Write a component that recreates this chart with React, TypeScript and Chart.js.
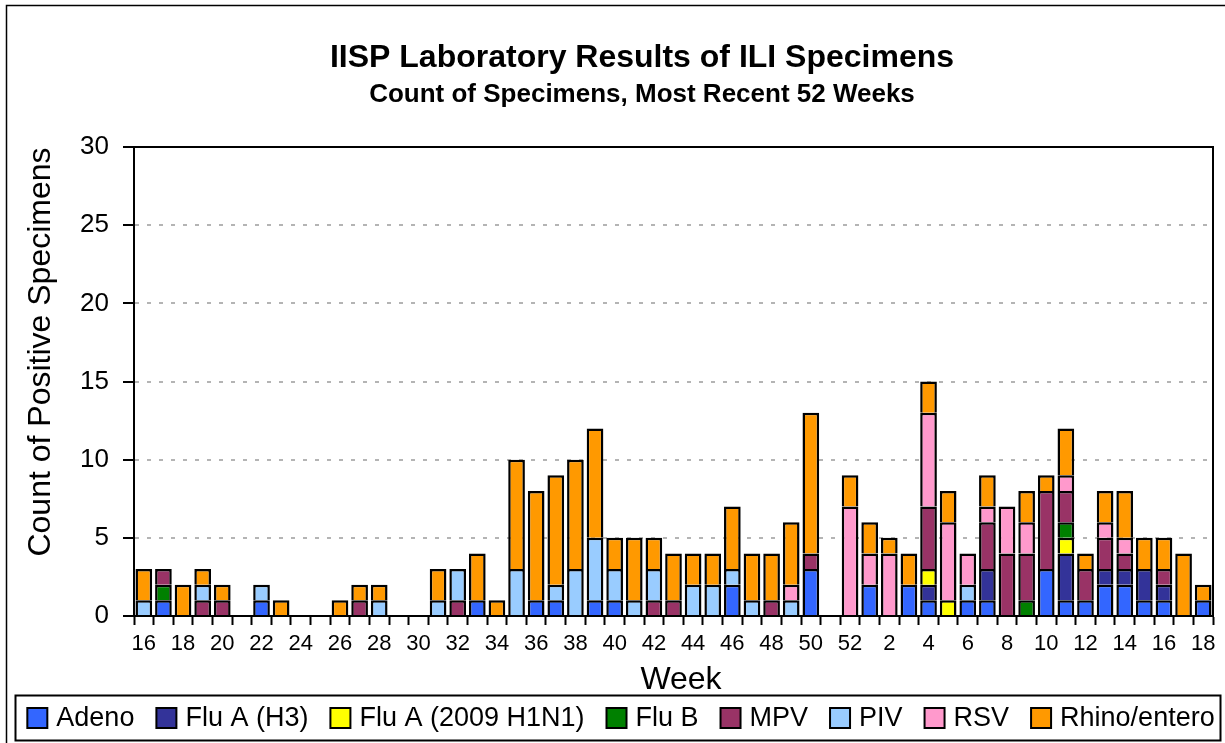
import React, { useEffect, useRef } from "react";
import { Chart, registerables } from "chart.js";

Chart.register(...registerables);

const FONT = "'Liberation Sans', Arial, Helvetica, sans-serif";

const weeks = [
  16, 17, 18, 19, 20, 21, 22, 23, 24, 25, 26, 27, 28, 29, 30, 31, 32, 33, 34, 35,
  36, 37, 38, 39, 40, 41, 42, 43, 44, 45, 46, 47, 48, 49, 50, 51, 52,
  1, 2, 3, 4, 5, 6, 7, 8, 9, 10, 11, 12, 13, 14, 15, 16, 17, 18,
];

const adeno = [
  0, 1, 0, 0, 0, 0, 1, 0, 0, 0, 0, 0, 0, 0, 0, 0, 0, 1, 0, 0,
  1, 1, 0, 1, 1, 0, 0, 0, 0, 0, 2, 0, 0, 0, 3, 0, 0,
  2, 0, 2, 1, 0, 1, 1, 0, 0, 3, 1, 1, 2, 2, 1, 1, 0, 1,
];
const fluH3 = [
  0, 0, 0, 0, 0, 0, 0, 0, 0, 0, 0, 0, 0, 0, 0, 0, 0, 0, 0, 0,
  0, 0, 0, 0, 0, 0, 0, 0, 0, 0, 0, 0, 0, 0, 0, 0, 0,
  0, 0, 0, 1, 0, 0, 2, 0, 0, 0, 3, 0, 1, 1, 2, 1, 0, 0,
];
const fluH1N1 = [
  0, 0, 0, 0, 0, 0, 0, 0, 0, 0, 0, 0, 0, 0, 0, 0, 0, 0, 0, 0,
  0, 0, 0, 0, 0, 0, 0, 0, 0, 0, 0, 0, 0, 0, 0, 0, 0,
  0, 0, 0, 1, 1, 0, 0, 0, 0, 0, 1, 0, 0, 0, 0, 0, 0, 0,
];
const fluB = [
  0, 1, 0, 0, 0, 0, 0, 0, 0, 0, 0, 0, 0, 0, 0, 0, 0, 0, 0, 0,
  0, 0, 0, 0, 0, 0, 0, 0, 0, 0, 0, 0, 0, 0, 0, 0, 0,
  0, 0, 0, 0, 0, 0, 0, 0, 1, 0, 1, 0, 0, 0, 0, 0, 0, 0,
];
const mpv = [
  0, 1, 0, 1, 1, 0, 0, 0, 0, 0, 0, 1, 0, 0, 0, 0, 1, 0, 0, 0,
  0, 0, 0, 0, 0, 0, 1, 1, 0, 0, 0, 0, 1, 0, 1, 0, 0,
  0, 0, 0, 4, 0, 0, 3, 4, 3, 5, 2, 2, 2, 1, 0, 1, 0, 0,
];
const piv = [
  1, 0, 0, 1, 0, 0, 1, 0, 0, 0, 0, 0, 1, 0, 0, 1, 2, 0, 0, 3,
  0, 1, 3, 4, 2, 1, 2, 0, 2, 2, 1, 1, 0, 1, 0, 0, 0,
  0, 0, 0, 0, 0, 1, 0, 0, 0, 0, 0, 0, 0, 0, 0, 0, 0, 0,
];
const rsv = [
  0, 0, 0, 0, 0, 0, 0, 0, 0, 0, 0, 0, 0, 0, 0, 0, 0, 0, 0, 0,
  0, 0, 0, 0, 0, 0, 0, 0, 0, 0, 0, 0, 0, 1, 0, 0, 7,
  2, 4, 0, 6, 5, 2, 1, 3, 2, 0, 1, 0, 1, 1, 0, 0, 0, 0,
];
const rhino = [
  2, 0, 2, 1, 1, 0, 0, 1, 0, 0, 1, 1, 1, 0, 0, 2, 0, 3, 1, 7,
  7, 7, 7, 7, 2, 4, 2, 3, 2, 2, 4, 3, 3, 4, 9, 0, 2,
  2, 1, 2, 2, 2, 0, 2, 0, 2, 1, 3, 1, 2, 3, 2, 2, 4, 1,
];

const seriesNames = ["Adeno", "Flu A (H3)", "Flu A (2009 H1N1)", "Flu B", "MPV", "PIV", "RSV", "Rhino/entero"];
const seriesValues = [adeno, fluH3, fluH1N1, fluB, mpv, piv, rsv, rhino];
const seriesColors = ["#3366FF", "#333399", "#FFFF00", "#008000", "#993366", "#99CCFF", "#FF99CC", "#FF9900"];

const yTicks = [0, 5, 10, 15, 20, 25, 30];

const titleText = "IISP Laboratory Results of ILI Specimens";
const subtitleText = "Count of Specimens, Most Recent 52 Weeks";
const xTitle = "Week";
const yTitle = "Count of Positive Specimens";

const decorPlugin = {
  id: "decor",
  afterDraw(chart: any) {
    const { ctx, chartArea } = chart;
    const { left, right, top, bottom } = chartArea;
    ctx.save();
    // outer frame
    ctx.strokeStyle = "#000";
    ctx.lineWidth = 1.5;
    ctx.beginPath();
    ctx.moveTo(6.5, 760);
    ctx.lineTo(6.5, 5.5);
    ctx.lineTo(1240, 5.5);
    ctx.stroke();
    // plot area top/right border
    ctx.lineWidth = 2;
    ctx.beginPath();
    ctx.moveTo(left, top);
    ctx.lineTo(right, top);
    ctx.lineTo(right, bottom);
    ctx.stroke();
    // titles
    ctx.fillStyle = "#000";
    ctx.textAlign = "center";
    ctx.textBaseline = "middle";
    ctx.font = `bold 32px ${FONT}`;
    ctx.fillText(titleText, 642, 58);
    ctx.font = `bold 26px ${FONT}`;
    ctx.fillText(subtitleText, 642, 95);
    // axis titles
    ctx.font = `32px ${FONT}`;
    ctx.fillText(xTitle, 681, 680);
    ctx.save();
    ctx.translate(41, 352);
    ctx.rotate(-Math.PI / 2);
    ctx.fillText(yTitle, 0, 0);
    ctx.restore();
    // legend
    const boxSize = 20;
    const boxGap = 9;
    const itemGap = 22;
    ctx.font = `27px ${FONT}`;
    const items = chart.data.datasets.map((d: any) => ({
      label: d.label as string,
      color: d.backgroundColor as string,
      w: ctx.measureText(d.label).width,
    }));
    const total =
      items.reduce((s: number, it: any) => s + boxSize + boxGap + it.w, 0) + itemGap * (items.length - 1);
    const lbLeft = 15.5;
    const lbRight = 1220.5;
    const lbTop = 695.5;
    const lbBottom = 740.5;
    ctx.lineWidth = 2;
    ctx.strokeRect(lbLeft, lbTop, lbRight - lbLeft, lbBottom - lbTop);
    let x = (lbLeft + lbRight) / 2 - total / 2 + 3;
    const cy = 718;
    ctx.textAlign = "left";
    items.forEach((it: any) => {
      ctx.fillStyle = it.color;
      ctx.fillRect(x, cy - boxSize / 2, boxSize, boxSize);
      ctx.lineWidth = 2;
      ctx.strokeStyle = "#000";
      ctx.strokeRect(x, cy - boxSize / 2, boxSize, boxSize);
      ctx.fillStyle = "#000";
      ctx.fillText(it.label, x + boxSize + boxGap, cy + 1);
      x += boxSize + boxGap + it.w + itemGap;
    });
    ctx.restore();
  },
};

export default function App() {
  const ref = useRef<HTMLCanvasElement | null>(null);
  useEffect(() => {
    document.body.style.margin = "0";
    const canvas = ref.current;
    if (!canvas) return;
    Chart.defaults.font.family = FONT;
    Chart.defaults.color = "#000";
    const chart = new Chart(canvas, {
      type: "bar",
      data: {
        labels: weeks.map((w) => String(w)),
        datasets: seriesNames.map((name, k) => ({
          label: name,
          data: seriesValues[k].map((v) => (v === 0 ? null : v)),
          backgroundColor: seriesColors[k],
          borderColor: "#000",
          borderWidth: 2.5,
          borderSkipped: "start",
          categoryPercentage: 1,
          barPercentage: 0.85,
        })),
      },
      options: {
        animation: false,
        responsive: false,
        maintainAspectRatio: false,
        devicePixelRatio: 1,
        layout: { padding: { top: 147, left: 0, right: 12, bottom: 77 } },
        plugins: {
          legend: { display: false },
          tooltip: { enabled: false },
          title: { display: false },
        },
        scales: {
          x: {
            stacked: true,
            offset: true,
            grid: {
              offset: true,
              drawOnChartArea: false,
              drawTicks: true,
              tickLength: 9,
              tickColor: "#000",
              tickWidth: 2,
            },
            border: { display: true, color: "#000", width: 2 },
            ticks: {
              autoSkip: false,
              maxRotation: 0,
              minRotation: 0,
              padding: 6,
              color: "#000",
              font: { family: FONT, size: 22 },
              callback: (_v: any, i: number) => (i % 2 === 0 ? String(weeks[i]) : ""),
            },
            afterFit: (scale: any) => {
              scale.height = 50;
            },
          },
          y: {
            stacked: true,
            min: yTicks[0],
            max: yTicks[yTicks.length - 1],
            grid: {
              color: (c: any) => (c.tick && c.tick.value === 0 ? "rgba(0,0,0,0)" : "#B4B4B4"),
              lineWidth: 2,
              drawTicks: true,
              tickLength: 11,
              tickColor: "#000",
              tickWidth: 2,
              tickBorderDash: [],
            },
            border: { display: true, color: "#000", width: 2, dash: [4, 8] },
            ticks: {
              stepSize: 5,
              padding: 14,
              color: "#000",
              font: { family: FONT, size: 26 },
            },
            afterFit: (scale: any) => {
              scale.width = 134;
            },
          },
        },
      },
      plugins: [decorPlugin],
    } as any);
    return () => chart.destroy();
  }, []);
  return (
    <div style={{ position: "absolute", left: 0, top: 0, width: 1225, height: 743 }}>
      <canvas ref={ref} width={1225} height={743} style={{ display: "block", width: 1225, height: 743 }} />
    </div>
  );
}
